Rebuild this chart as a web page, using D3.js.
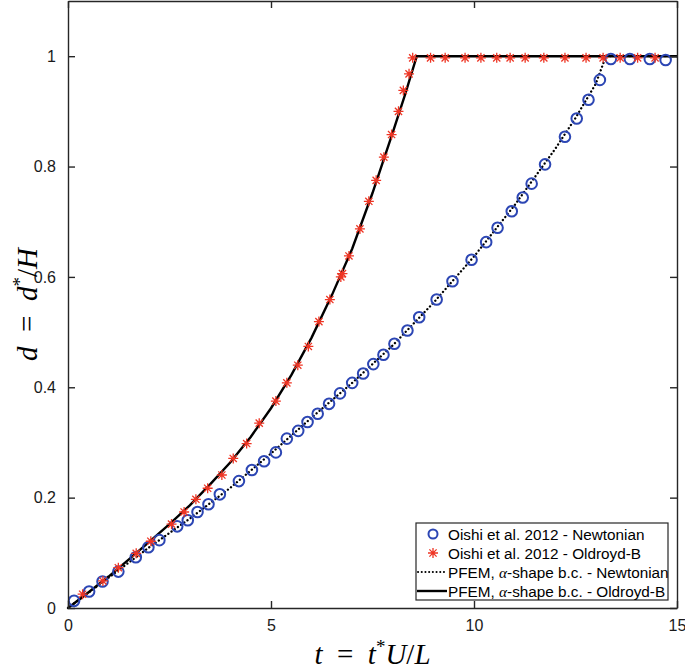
<!DOCTYPE html>
<html>
<head>
<meta charset="utf-8">
<script src="https://cdn.jsdelivr.net/npm/d3@7"></script>
<style>
  body { margin: 0; background: #fff; }
  .tick text { font-family: "Liberation Sans", Arial, sans-serif; font-size: 16px; fill: #1a1a1a; }
  .math { font-family: "Liberation Serif", "Times New Roman", serif; fill: #000; }
</style>
</head>
<body>
<div class="chart"></div>
<script>
var svgWidth = 685;
var svgHeight = 669;

var margin = { top: 1, right: 8, bottom: 61, left: 68 };
var width = svgWidth - margin.left - margin.right;
var height = svgHeight - margin.top - margin.bottom;

// Oishi et al. 2012 - Newtonian (circles)
var newtT = [0.15, 0.52, 0.85, 1.24, 1.67, 1.98, 2.25, 2.69, 2.95, 3.19, 3.46, 3.74, 4.21, 4.53, 4.83, 5.12,
  5.39, 5.67, 5.90, 6.15, 6.43, 6.70, 7.00, 7.27, 7.52, 7.77, 8.04, 8.36, 8.65, 9.08, 9.47, 9.94,
  10.30, 10.58, 10.93, 11.20, 11.42, 11.75, 12.24, 12.53, 12.82, 13.10, 13.37, 13.84, 14.33, 14.72];
var newtD = [0.013, 0.030, 0.048, 0.066, 0.092, 0.110, 0.123, 0.148, 0.159, 0.174, 0.188, 0.206, 0.230, 0.250, 0.266, 0.282,
  0.307, 0.321, 0.337, 0.352, 0.370, 0.389, 0.408, 0.425, 0.442, 0.459, 0.479, 0.503, 0.527, 0.559, 0.592, 0.631,
  0.663, 0.689, 0.719, 0.744, 0.769, 0.804, 0.854, 0.887, 0.921, 0.957, 0.995, 0.995, 0.995, 0.993];

// Oishi et al. 2012 - Oldroyd-B (asterisks)
var oldT = [0.36, 0.86, 1.24, 1.68, 2.04, 2.55, 2.86, 3.15, 3.44, 3.79, 4.07, 4.40, 4.71, 5.12, 5.39, 5.66,
  5.92, 6.18, 6.45, 6.72, 6.76, 6.92, 7.19, 7.41, 7.59, 7.78, 7.97, 8.14, 8.26, 8.40, 8.49,
  8.93, 9.29, 9.78, 10.17, 10.56, 10.89, 11.26, 11.72, 12.24, 12.76, 13.18, 13.60, 14.03, 14.46];
var oldD = [0.025, 0.049, 0.073, 0.099, 0.121, 0.152, 0.174, 0.197, 0.217, 0.241, 0.271, 0.298, 0.335, 0.375, 0.408, 0.440,
  0.474, 0.519, 0.559, 0.600, 0.606, 0.638, 0.687, 0.737, 0.775, 0.817, 0.858, 0.900, 0.938, 0.968, 0.997,
  0.997, 0.997, 0.997, 0.997, 0.997, 0.997, 0.997, 0.997, 0.997, 0.997, 0.997, 0.997, 0.997, 0.997];

// PFEM, alpha-shape b.c. - Newtonian (dotted)
var pfemNewtT = [0, 1, 2, 3, 4, 5, 6, 7, 8, 9, 10, 11, 12, 12.5, 13, 13.25, 15];
var pfemNewtD = [0, 0.055, 0.110, 0.162, 0.218, 0.280, 0.345, 0.408, 0.476, 0.553, 0.637, 0.730, 0.832, 0.888, 0.950, 1.0, 1.0];

// PFEM, alpha-shape b.c. - Oldroyd-B (solid)
var pfemOldT = [0, 0.5, 1, 1.5, 2, 2.5, 3, 3.5, 4, 4.5, 5, 5.5, 6, 6.5, 7, 7.5, 8, 8.3, 8.59, 15];
var pfemOldD = [0, 0.028, 0.057, 0.088, 0.120, 0.152, 0.186, 0.224, 0.264, 0.310, 0.362, 0.422, 0.490, 0.567, 0.651, 0.752, 0.862, 0.930, 1.0, 1.0];

var xTicks = [0, 5, 10, 15];
var yTicks = [0, 0.2, 0.4, 0.6, 0.8, 1];

var blue = "#2c46b4";
var red = "#ee3524";
var axisColor = "#262626";
var dotDash = "0.1,3.8";

var svg = d3.select(".chart").append("svg")
  .attr("width", svgWidth)
  .attr("height", svgHeight)
  .style("font-family", "Liberation Sans, Arial, sans-serif");

var chart = svg.append("g")
  .attr("transform", "translate(" + margin.left + "," + margin.top + ")");

var x = d3.scaleLinear().domain([0, 15]).range([0, width]);
var y = d3.scaleLinear().domain([0, 1.1]).range([height, 0]);

function zip(a, b) {
  return a.map(function(v, i) { return [v, b[i]]; });
}

var line = d3.line()
  .x(function(d) { return x(d[0]); })
  .y(function(d) { return y(d[1]); });

// curves
chart.append("path")
  .attr("d", line(zip(pfemNewtT, pfemNewtD)))
  .attr("fill", "none")
  .attr("stroke", "#000")
  .attr("stroke-width", 2.3)
  .attr("stroke-linecap", "round")
  .attr("stroke-dasharray", dotDash);

chart.append("path")
  .attr("d", line(zip(pfemOldT, pfemOldD)))
  .attr("fill", "none")
  .attr("stroke", "#000")
  .attr("stroke-width", 2.4);

// asterisk marker (+ and x)
function starPath(r) {
  var k = r * 0.72;
  return "M0," + (-r) + "V" + r + "M" + (-r) + ",0H" + r +
    "M" + (-k) + "," + (-k) + "L" + k + "," + k + "M" + (-k) + "," + k + "L" + k + "," + (-k);
}

chart.append("g").selectAll("circle")
  .data(zip(newtT, newtD))
  .enter()
  .append("circle")
  .attr("cx", function(d) { return x(d[0]); })
  .attr("cy", function(d) { return y(d[1]); })
  .attr("r", 5.3)
  .attr("fill", "none")
  .attr("stroke", blue)
  .attr("stroke-width", 2);

chart.append("g").selectAll("path")
  .data(zip(oldT, oldD))
  .enter()
  .append("path")
  .attr("transform", function(d) { return "translate(" + x(d[0]) + "," + y(d[1]) + ")"; })
  .attr("d", starPath(5))
  .attr("fill", "none")
  .attr("stroke", red)
  .attr("stroke-width", 1.3);

// axes, ticks inward on all four sides
var bottomAxis = d3.axisBottom(x).tickValues(xTicks).tickSizeInner(-7).tickSizeOuter(0).tickPadding(12).tickFormat(d3.format("d"));
var leftAxis = d3.axisLeft(y).tickValues(yTicks).tickSizeInner(-7).tickSizeOuter(0).tickPadding(12).tickFormat(function(d) { return d === 0 || d === 1 ? d : d3.format(".1f")(d); });
var topAxis = d3.axisTop(x).tickValues(xTicks).tickSizeInner(-7).tickSizeOuter(0).tickFormat("");
var rightAxis = d3.axisRight(y).tickValues(yTicks).tickSizeInner(-7).tickSizeOuter(0).tickFormat("");

function styleAxis(g) {
  g.select(".domain").attr("stroke", axisColor).attr("stroke-width", 1.4);
  g.selectAll(".tick line").attr("stroke", axisColor).attr("stroke-width", 1.4);
  g.selectAll(".tick text").attr("fill", "#1a1a1a");
}

chart.append("g").attr("transform", "translate(0," + height + ")").call(bottomAxis).call(styleAxis);
chart.append("g").call(leftAxis).call(styleAxis);
chart.append("g").call(topAxis).call(styleAxis);
chart.append("g").attr("transform", "translate(" + width + ",0)").call(rightAxis).call(styleAxis);

// axis labels (math style)
var xl = svg.append("text")
  .attr("class", "math")
  .attr("x", margin.left + width / 2)
  .attr("y", 664)
  .attr("text-anchor", "middle")
  .attr("font-size", 29)
  .attr("xml:space", "preserve");
xl.append("tspan").attr("font-style", "italic").text("t");
xl.append("tspan").text("  =  ");
xl.append("tspan").attr("font-style", "italic").text("t");
xl.append("tspan").attr("font-size", 19).attr("dy", -11).text("*");
xl.append("tspan").attr("font-style", "italic").attr("dy", 11).text("U");
xl.append("tspan").text("/");
xl.append("tspan").attr("font-style", "italic").text("L");

var yl = svg.append("text")
  .attr("class", "math")
  .attr("transform", "translate(37," + (margin.top + height / 2) + ") rotate(-90)")
  .attr("text-anchor", "middle")
  .attr("font-size", 29)
  .attr("xml:space", "preserve");
yl.append("tspan").attr("font-style", "italic").text("d");
yl.append("tspan").text("  =  ");
yl.append("tspan").attr("font-style", "italic").text("d");
yl.append("tspan").attr("font-size", 19).attr("dy", -11).text("*");
yl.append("tspan").attr("dy", 11).text("/");
yl.append("tspan").attr("font-style", "italic").text("H");

// legend
var legend = svg.append("g").attr("transform", "translate(416,523)");
legend.append("rect")
  .attr("width", 252)
  .attr("height", 77)
  .attr("fill", "#fff")
  .attr("stroke", axisColor)
  .attr("stroke-width", 1.2);

var legendRows = [
  { label: "Oishi et al. 2012 - Newtonian", kind: "circle" },
  { label: "Oishi et al. 2012 - Oldroyd-B", kind: "star" },
  { label: "PFEM, α-shape b.c. - Newtonian", kind: "dotted" },
  { label: "PFEM, α-shape b.c. - Oldroyd-B", kind: "solid" }
];

legendRows.forEach(function(row, i) {
  var cy = 11 + i * 19;
  var g = legend.append("g").attr("transform", "translate(0," + cy + ")");
  if (row.kind === "circle") {
    g.append("circle").attr("cx", 17).attr("cy", 0).attr("r", 4.5)
      .attr("fill", "none").attr("stroke", blue).attr("stroke-width", 2);
  } else if (row.kind === "star") {
    g.append("path").attr("transform", "translate(17,0)").attr("d", starPath(5))
      .attr("fill", "none").attr("stroke", red).attr("stroke-width", 1.3);
  } else if (row.kind === "dotted") {
    g.append("line").attr("x1", 2).attr("x2", 31).attr("y1", 0).attr("y2", 0)
      .attr("stroke", "#000").attr("stroke-width", 2)
      .attr("stroke-linecap", "round").attr("stroke-dasharray", "0.1,3.6");
  } else {
    g.append("line").attr("x1", 1).attr("x2", 31).attr("y1", 0).attr("y2", 0)
      .attr("stroke", "#000").attr("stroke-width", 2.4);
  }
  var t = g.append("text").attr("x", 32).attr("y", 5.5).attr("font-size", 15.3).attr("fill", "#000");
  if (row.label.indexOf("α") >= 0) {
    var parts = row.label.split("α");
    t.append("tspan").text(parts[0]);
    t.append("tspan").attr("font-family", "Liberation Serif, serif").attr("font-style", "italic").text("α");
    t.append("tspan").text(parts[1]);
  } else {
    t.text(row.label);
  }
});
</script>
</body>
</html>
